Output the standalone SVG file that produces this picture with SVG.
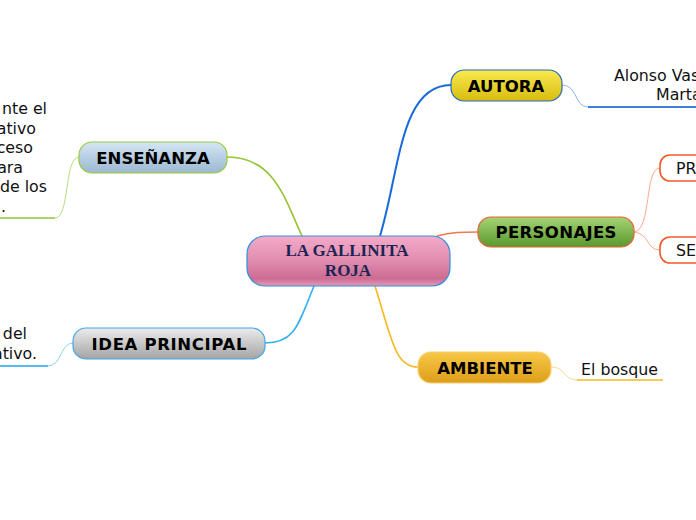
<svg xmlns="http://www.w3.org/2000/svg" width="696" height="520" viewBox="0 0 696 520">
<defs>
<linearGradient id="gCenter" x1="0" y1="0" x2="0" y2="1"><stop offset="0" stop-color="#f4aac8"/><stop offset="0.5" stop-color="#e08cae"/><stop offset="0.85" stop-color="#cc6c92"/><stop offset="1" stop-color="#e49ab8"/></linearGradient>
<linearGradient id="gYellow" x1="0" y1="0" x2="0" y2="1"><stop offset="0" stop-color="#f8ea50"/><stop offset="1" stop-color="#d8bc10"/></linearGradient>
<linearGradient id="gGreen" x1="0" y1="0" x2="0" y2="1"><stop offset="0" stop-color="#a4d474"/><stop offset="1" stop-color="#5a982e"/></linearGradient>
<linearGradient id="gOrange" x1="0" y1="0" x2="0" y2="1"><stop offset="0" stop-color="#f8c848"/><stop offset="1" stop-color="#dc9e18"/></linearGradient>
<linearGradient id="gBlue" x1="0" y1="0" x2="0" y2="1"><stop offset="0" stop-color="#d4e6f4"/><stop offset="1" stop-color="#9cb8d0"/></linearGradient>
<linearGradient id="gGray" x1="0" y1="0" x2="0" y2="1"><stop offset="0" stop-color="#ececec"/><stop offset="1" stop-color="#a4a4a4"/></linearGradient>
</defs>
<style>
.lbl{font-family:"DejaVu Sans",Verdana,sans-serif;font-weight:bold;font-size:16.5px;fill:#000;text-anchor:middle}
.txt{font-family:"DejaVu Sans",Verdana,sans-serif;font-size:15.8px;fill:#111}
.ctr{font-family:"Liberation Serif","Times New Roman",serif;font-weight:bold;font-size:17px;fill:#1a2452;text-anchor:middle}
.c{fill:none}
</style>
<g id="connectors">
<path class="c" d="M380,236 C400,170 400,85 451,85" stroke="#1a6ad8" stroke-width="2"/>
<path class="c" d="M302,236 C285,200 275,157 227,157" stroke="#94c430" stroke-width="1.6"/>
<path class="c" d="M437,236 C452,232 462,232 478,232" stroke="#f07850" stroke-width="1.6"/>
<path class="c" d="M314,286 C298,325 295,343 265,343" stroke="#30b0ec" stroke-width="1.6"/>
<path class="c" d="M375,286 C392,340 395,367 418,367" stroke="#f8b820" stroke-width="1.6"/>
<path class="c" d="M562,85 C578,85 574,107 588,107" stroke="#90b8e8" stroke-width="1"/>
<path class="c" d="M588,107 L696,107" stroke="#3a80d8" stroke-width="2"/>
<path class="c" d="M634,232 C652,230 644,168 660,168" stroke="#f8a890" stroke-width="1"/>
<path class="c" d="M634,232 C650,234 646,250 660,250" stroke="#f8a890" stroke-width="1"/>
<path class="c" d="M551,367 C566,367 563,380 577,380" stroke="#fad890" stroke-width="1"/>
<path class="c" d="M577,380 L663,380" stroke="#f8b820" stroke-width="1.6"/>
<path class="c" d="M79,157 C64,157 70,218 55,218" stroke="#b8dc80" stroke-width="1"/>
<path class="c" d="M55,218 L0,218" stroke="#94c430" stroke-width="1.6"/>
<path class="c" d="M73,343 C60,343 62,366 48,366" stroke="#90d0f0" stroke-width="1"/>
<path class="c" d="M48,366 L0,366" stroke="#20a4e4" stroke-width="1.6"/>
</g>
<g id="center">
<rect x="247" y="236" width="203" height="50" rx="18" fill="url(#gCenter)" stroke="#3090e0" stroke-width="1.2"/>
<text class="ctr" x="347" y="256">LA GALLINITA</text>
<text class="ctr" x="348" y="276">ROJA</text>
</g>
<g id="autora">
<rect x="451" y="70" width="111" height="31" rx="13" fill="url(#gYellow)" stroke="#2a6ab8" stroke-width="1.2"/>
<text class="lbl" x="506" y="92">AUTORA</text>
</g>
<g id="autora-text">
<text class="txt" x="614" y="81">Alonso Vas</text>
<text class="txt" x="656" y="100">Marta</text>
</g>
<g id="personajes">
<rect x="478" y="217" width="156" height="30" rx="13" fill="url(#gGreen)" stroke="#e86030" stroke-width="1.2"/>
<text class="lbl" x="556" y="238" textLength="121">PERSONAJES</text>
</g>
<g id="pr">
<rect x="660" y="155" width="60" height="26" rx="10" fill="#fff" stroke="#f05a28" stroke-width="1.6"/>
<text class="txt" x="676" y="174">PR</text>
</g>
<g id="se">
<rect x="660" y="237" width="60" height="26" rx="10" fill="#fff" stroke="#f05a28" stroke-width="1.6"/>
<text class="txt" x="676" y="256">SE</text>
</g>
<g id="ambiente">
<rect x="418" y="352" width="133" height="31" rx="13" fill="url(#gOrange)" stroke="#f8d070" stroke-width="1.2"/>
<text class="lbl" x="485" y="374">AMBIENTE</text>
</g>
<g id="ambiente-text">
<text class="txt" x="581" y="375">El bosque</text>
</g>
<g id="ensenanza">
<rect x="79" y="142" width="148" height="31" rx="13" fill="url(#gBlue)" stroke="#98cc40" stroke-width="1.2"/>
<text class="lbl" x="153" y="164">ENSEÑANZA</text>
</g>
<g id="ensenanza-text">
<text class="txt" x="47" y="114" text-anchor="end">nte el</text>
<text class="txt" x="36" y="134" text-anchor="end">ativo</text>
<text class="txt" x="33" y="153" text-anchor="end">ceso</text>
<text class="txt" x="23" y="173" text-anchor="end">ara</text>
<text class="txt" x="47" y="192" text-anchor="end">de los</text>
<text class="txt" x="6" y="212" text-anchor="end">.</text>
</g>
<g id="idea">
<rect x="73" y="328" width="192" height="31" rx="13" fill="url(#gGray)" stroke="#40a8e8" stroke-width="1.2"/>
<text class="lbl" x="169" y="350" textLength="155">IDEA PRINCIPAL</text>
</g>
<g id="idea-text">
<text class="txt" x="27" y="339" text-anchor="end">del</text>
<text class="txt" x="37" y="359" text-anchor="end">ativo.</text>
</g>
</svg>
